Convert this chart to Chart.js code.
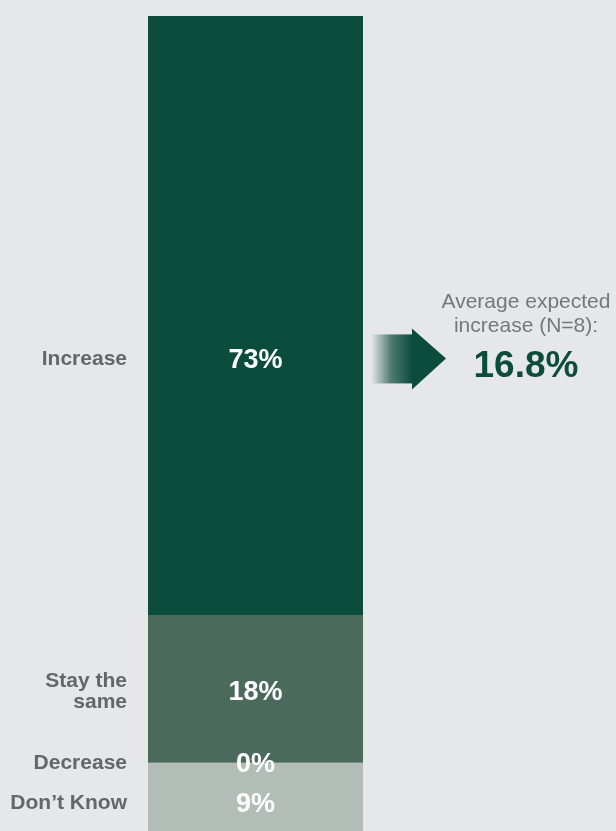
<!DOCTYPE html>
<html>
<head>
<meta charset="utf-8">
<script src="https://cdn.jsdelivr.net/npm/chart.js@4/dist/chart.umd.min.js"></script>
<style>
  html, body { margin: 0; padding: 0; background: #e6e7e9; overflow: hidden; }
  #wrap { position: relative; width: 616px; height: 837px; }
</style>
</head>
<body>
<div id="wrap"><canvas id="responseChart"></canvas></div>
<script>
// stacked from bottom to top
const categories = ['Don\u2019t Know', 'Decrease', 'Stay the same', 'Increase'];
const values = [9, 0, 18, 73];
const valueLabels = ['9%', '0%', '18%', '73%'];
const sideLabels = [['Don\u2019t Know'], ['Decrease'], ['Stay the', 'same'], ['Increase']];
const colors = ['#b3bdb7', '#b3bdb7', '#4a6a5c', '#0c4c3c'];
const avgLines = ['Average expected', 'increase (N=8):'];
const avgValue = '16.8%';

const font = '"Liberation Sans", Arial, Helvetica, sans-serif';

const labelsPlugin = {
    id: 'barLabels',
    afterDatasetsDraw(chart) {
        const ctx = chart.ctx;
        const area = chart.chartArea;
        const incMeta = chart.getDatasetMeta(3).data[0];
        // the Increase row sits a bit below the middle of its block, level with the arrow
        const incY = incMeta.y + (incMeta.base - incMeta.y) * 0.573;

        chart.data.datasets.forEach((ds, i) => {
            const bar = chart.getDatasetMeta(i).data[0];
            let y = (bar.y + bar.base) / 2;
            if (i === 3) y = incY;
            if (i === 2) y += 2;
            if (i === 0) y = bar.y + 40;
            ctx.save();
            ctx.fillStyle = '#ffffff';
            ctx.font = 'bold 27px ' + font;
            ctx.textAlign = 'center';
            ctx.textBaseline = 'middle';
            ctx.fillText(valueLabels[i], (area.left + area.right) / 2, y + 1);

            ctx.fillStyle = '#666666';
            ctx.font = 'bold 21px ' + font;
            ctx.textAlign = 'right';
            const lines = sideLabels[i];
            const lh = 21;
            lines.forEach((t, k) => {
                ctx.fillText(t, area.left - 21, y + (k - (lines.length - 1) / 2) * lh);
            });
            ctx.restore();
        });

        // arrow
        const x0 = area.right + 8;
        const x1 = x0 + 41;
        const tip = x0 + 75;
        ctx.save();
        const grad = ctx.createLinearGradient(x0, 0, x1, 0);
        grad.addColorStop(0, 'rgba(12,76,60,0)');
        grad.addColorStop(0.5, 'rgba(12,76,60,0.7)');
        grad.addColorStop(1, 'rgba(12,76,60,1)');
        ctx.fillStyle = grad;
        ctx.fillRect(x0, incY - 25, x1 - x0, 49);
        ctx.fillStyle = '#0c4c3c';
        ctx.beginPath();
        ctx.moveTo(x1, incY - 31);
        ctx.lineTo(tip, incY - 1);
        ctx.lineTo(x1, incY + 30);
        ctx.closePath();
        ctx.fill();

        // average annotation
        const cx = 526;
        ctx.textAlign = 'center';
        ctx.textBaseline = 'middle';
        ctx.fillStyle = '#777777';
        ctx.font = '21px ' + font;
        ctx.fillText(avgLines[0], cx, incY - 57);
        ctx.fillText(avgLines[1], cx, incY - 33);
        ctx.fillStyle = '#0c4c3c';
        ctx.font = 'bold 37px ' + font;
        ctx.fillText(avgValue, cx, incY + 7);
        ctx.restore();
    }
};

const ctx = document.getElementById('responseChart').getContext('2d');
const responseChart = new Chart(ctx, {
    type: 'bar',
    data: {
        labels: [''],
        datasets: categories.map((c, i) => ({
            label: c,
            data: [values[i]],
            backgroundColor: colors[i],
            borderWidth: 0,
            barPercentage: 1,
            categoryPercentage: 1
        }))
    },
    options: {
        responsive: true,
        maintainAspectRatio: false,
        animation: false,
        layout: { padding: { left: 148, right: 253, top: 16, bottom: 0 } },
        plugins: {
            legend: { display: false },
            tooltip: { enabled: false }
        },
        scales: {
            x: { stacked: true, display: false },
            y: { stacked: true, display: false, min: 0, max: 100 }
        }
    },
    plugins: [labelsPlugin]
});
</script>
</body>
</html>
